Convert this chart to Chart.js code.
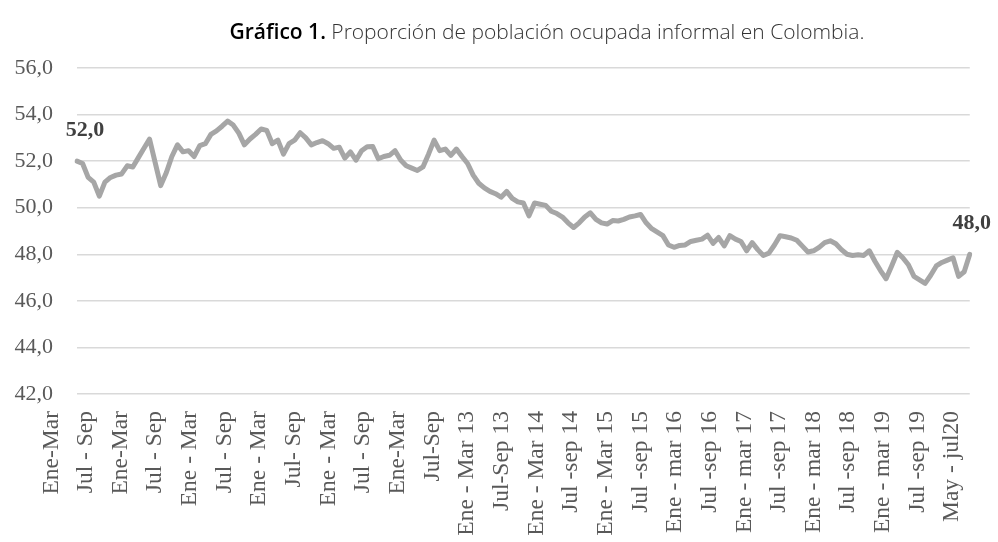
<!DOCTYPE html>
<html lang="es">
<head>
<meta charset="utf-8">
<title>Proporción de población ocupada informal en Colombia</title>
<script src="https://cdn.jsdelivr.net/npm/chart.js@4.4.1/dist/chart.umd.min.js"></script>
<style>
  html, body { margin: 0; padding: 0; background: #fff; }
  #wrap { position: relative; width: 998px; height: 542px; }
  #titulo {
    position: absolute; left: 0; width: 1094px; top: 17px;
    text-align: center; font-family: 'Open Sans', sans-serif;
    font-size: 21px; font-weight: 300; color: #333; white-space: nowrap;
  }
  #titulo b { font-weight: 600; color: #000; }
  #chart { position: absolute; left: 0; top: 0; }
</style>
</head>
<body>
<div id="wrap">
  <canvas id="chart" width="998" height="542"></canvas>
  <div id="titulo"><b>Gráfico 1.</b> Proporción de población ocupada informal en Colombia.</div>
</div>
<script>
// Trimestres móviles desde Ene-Mar 2007 hasta May-Jul 2020
const meses = ['Ene', 'Feb', 'Mar', 'Abr', 'May', 'Jun', 'Jul', 'Ago', 'Sep', 'Oct', 'Nov', 'Dic'];
const anioInicial = 2007;

// Proporción de población ocupada informal (%)
const informal = [
  52.0, 51.9, 51.3, 51.1, 50.5, 51.1, 51.3, 51.4, 51.45, 51.8,
  51.75, 52.15, 52.55, 52.95, 51.95, 50.95, 51.5, 52.2, 52.7, 52.4,
  52.45, 52.2, 52.67, 52.75, 53.15, 53.3, 53.5, 53.72, 53.55, 53.2,
  52.7, 52.95, 53.15, 53.38, 53.32, 52.75, 52.9, 52.3, 52.75, 52.9,
  53.22, 53.0, 52.7, 52.8, 52.88, 52.75, 52.55, 52.6, 52.13, 52.4,
  52.04, 52.45, 52.62, 52.63, 52.1, 52.2, 52.25, 52.45, 52.05, 51.8,
  51.7, 51.6, 51.75, 52.3, 52.9, 52.45, 52.52, 52.25, 52.52, 52.2,
  51.9, 51.4, 51.05, 50.85, 50.7, 50.6, 50.45, 50.7, 50.4, 50.25,
  50.2, 49.65, 50.2, 50.15, 50.1, 49.85, 49.75, 49.6, 49.35, 49.15,
  49.35, 49.6, 49.78, 49.5, 49.35, 49.3, 49.45, 49.43, 49.5, 49.6,
  49.65, 49.71, 49.35, 49.1, 48.95, 48.8, 48.4, 48.3, 48.38, 48.4,
  48.55, 48.6, 48.65, 48.82, 48.47, 48.72, 48.36, 48.8, 48.65, 48.55,
  48.15, 48.5, 48.2, 47.95, 48.05, 48.4, 48.8, 48.75, 48.7, 48.6,
  48.35, 48.1, 48.15, 48.3, 48.5, 48.58, 48.45, 48.2, 48.0, 47.95,
  47.98, 47.95, 48.15, 47.7, 47.3, 46.95, 47.5, 48.08, 47.85, 47.55,
  47.05, 46.9, 46.75, 47.1, 47.5, 47.65, 47.75, 47.85, 47.05, 47.25,
  48.0
];

// Etiquetas del eje horizontal, tal como aparecen en el gráfico
const etiquetasEje = [
  'Ene-Mar', 'Jul - Sep', 'Ene-Mar', 'Jul - Sep', 'Ene - Mar', 'Jul - Sep',
  'Ene - Mar', 'Jul- Sep', 'Ene - Mar', 'Jul - Sep', 'Ene-Mar', 'Jul-Sep',
  'Ene - Mar 13', 'Jul-Sep 13', 'Ene - Mar 14', 'Jul -sep 14', 'Ene - Mar 15', 'Jul -sep 15',
  'Ene - mar 16', 'Jul -sep 16', 'Ene - mar 17', 'Jul -sep 17', 'Ene - mar 18', 'Jul -sep 18',
  'Ene - mar 19', 'Jul -sep 19', 'May - jul20'
];

const periodos = informal.map(function(v, i) {
    const anio = anioInicial + Math.floor(i / 12);
    return meses[i % 12] + '-' + meses[(i + 2) % 12] + ' ' + anio;
});

const fuenteSerif = "'Times New Roman', 'Liberation Serif', serif";

// Etiquetas de datos para el primer y último valor
const etiquetasExtremos = {
    id: 'etiquetasExtremos',
    afterDatasetsDraw(chart) {
        const puntos = chart.getDatasetMeta(0).data;
        const ctx = chart.ctx;
        const extremos = [[0, 8], [puntos.length - 1, 2]];
        ctx.save();
        ctx.font = 'bold 22px ' + fuenteSerif;
        ctx.fillStyle = '#404040';
        ctx.textAlign = 'center';
        ctx.textBaseline = 'middle';
        extremos.forEach(function(e) {
            const p = puntos[e[0]];
            const txt = informal[e[0]].toFixed(1).replace('.', ',');
            ctx.fillText(txt, p.x + e[1], p.y - 31);
        });
        ctx.restore();
    }
};

const ctx = document.getElementById('chart').getContext('2d');
const chart = new Chart(ctx, {
    type: 'line',
    data: {
        labels: periodos,
        datasets: [{
            label: 'Informalidad',
            data: informal,
            borderColor: '#a6a6a6',
            borderWidth: 5,
            borderJoinStyle: 'round',
            borderCapStyle: 'round',
            pointRadius: 0,
            tension: 0,
            fill: false
        }]
    },
    options: {
        responsive: false,
        animation: false,
        layout: { padding: { top: 68, right: 26, bottom: 0, left: 0 } },
        plugins: {
            legend: { display: false },
            title: { display: false }
        },
        scales: {
            x: { display: false, offset: false },
            x2: {
                type: 'linear',
                position: 'bottom',
                min: 0,
                max: 160,
                grid: { display: false, drawTicks: false },
                border: { display: false },
                afterBuildTicks: function(scale) {
                    // una etiqueta cada seis trimestres móviles, corrida como en el original
                    scale.ticks = etiquetasEje.map(function(t, k) {
                        return { value: -4.6 + k * 6.21 };
                    });
                },
                afterFit: function(scale) { scale.height = 148; },
                ticks: {
                    autoSkip: false,
                    minRotation: 90,
                    maxRotation: 90,
                    padding: 17,
                    color: '#595959',
                    font: { family: fuenteSerif, size: 23.5 },
                    callback: function(v, i) { return etiquetasEje[i]; }
                }
            },
            y: {
                min: 42,
                max: 56,
                grid: { color: '#d9d9d9', lineWidth: 1.5, drawTicks: false },
                border: { display: false },
                afterFit: function(scale) { scale.width = 77; },
                ticks: {
                    stepSize: 2,
                    padding: 24,
                    color: '#595959',
                    font: { family: fuenteSerif, size: 22 },
                    callback: function(v) { return v.toFixed(1).replace('.', ','); }
                }
            }
        }
    },
    plugins: [etiquetasExtremos]
});
</script>
</body>
</html>
